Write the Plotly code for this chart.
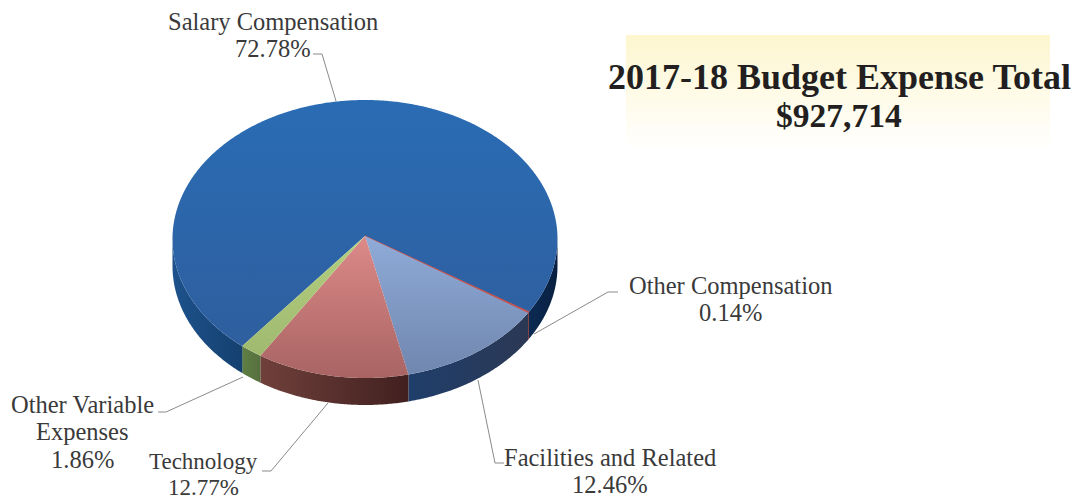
import numpy as np
import plotly.graph_objects as go

categories = ["Salary Compensation", "Other Compensation", "Facilities and Related", "Technology", "Other Variable Expenses"]
shares = [72.78, 0.14, 12.46, 12.77, 1.86]
title_lines = ["2017-18 Budget Expense Total", "$927,714"]

top_colors = [("#2a6cb4", "#2f5d9c"), ("#c0504d", "#c0504d"), ("#90abd9", "#6f86ad"),
              ("#dc8a88", "#a86463"), ("#b3cf80", "#9cb56c")]
side_colors = [("#1e528c", "#14406f"), ("#7a2f2d", "#7a2f2d"), ("#1f3e6b", "#2b3854"),
               ("#70403b", "#41201f"), ("#5f7f45", "#566f3f")]
salary_right_side = ("#0b2a52", "#0a2040")

W, H = 1077, 501
CX, CY, RX, RY, DEPTH = 365, 239, 192.5, 139, 27
APEX = (365, 236)
START = 219.6   # first slice start, degrees clockwise from top

def rim(a0, a1, n=None):
    n = n or max(int(abs(a1 - a0)) * 2, 2)
    a = np.radians(np.linspace(a0, a1, n))
    return CX + RX * np.sin(a), CY - RY * np.cos(a)

fig = go.Figure()

def grad(kind, c0, c1, start, stop):
    return dict(type=kind, colorscale=[[0, c0], [1, c1]], start=start, stop=stop)

# highlight box behind the title
fig.add_trace(go.Scatter(
    x=[626, 1050, 1050, 626, 626], y=[35, 35, 150, 150, 35], mode="none", fill="toself",
    fillgradient=grad("vertical", "#fdf6cf", "#ffffff", 35, 150),
    hoverinfo="skip", showlegend=False))

# slice angle ranges from the shares
edges = START + np.cumsum([0] + shares) * 3.6

# side walls, only for the front half of the disc
for k in (360, 0):
    for i, name in enumerate(categories):
        lo = max(edges[i], 90 + k)
        hi = min(edges[i + 1], 270 + k)
        if hi <= lo:
            continue
        xs, ys = rim(lo, hi)
        px = np.r_[xs, xs[::-1], xs[0]]
        py = np.r_[ys, ys[::-1] + DEPTH, ys[0]]
        c = salary_right_side if (i == 0 and k == 360) else side_colors[i]
        fig.add_trace(go.Scatter(
            x=px, y=py, mode="none", fill="toself", name=name,
            fillgradient=grad("horizontal", c[0], c[1], float(xs.min()), float(xs.max())),
            hoverinfo="skip", showlegend=False))

# top faces
for i, name in enumerate(categories):
    xs, ys = rim(edges[i], edges[i + 1])
    px = np.r_[APEX[0], xs, APEX[0]]
    py = np.r_[APEX[1], ys, APEX[1]]
    y0 = CY - RY if i == 0 else APEX[1]
    fig.add_trace(go.Scatter(
        x=px, y=py, mode="lines" if shares[i] < 1 else "none", fill="toself", name=name,
        line=dict(color=top_colors[i][0], width=1),
        fillgradient=grad("vertical", top_colors[i][0], top_colors[i][1], y0, CY + RY),
        hovertemplate=f"{name}: {shares[i]:.2f}%<extra></extra>", showlegend=False))

def label(lines, x, y, step=27.5, size=24.5):
    for j, t in enumerate(lines):
        fig.add_annotation(x=x, y=y + j * step, text=t, showarrow=False, xanchor="center", yanchor="middle",
                           font=dict(family="Liberation Serif", size=size, color="#3a3a3a"), align="center")

label([categories[0], f"{shares[0]:.2f}%"], 273, 21)
label([categories[1], f"{shares[1]:.2f}%"], 730, 285)
label([categories[2], f"{shares[2]:.2f}%"], 610, 457)
label([categories[3], f"{shares[3]:.2f}%"], 203, 461, step=26.5, size=23)
label(["Other Variable", "Expenses", f"{shares[4]:.2f}%"], 82, 404)

for t, y, s in zip(title_lines, [77, 115], [36, 33.5]):
    fig.add_annotation(x=839, y=y, text=f"<b>{t}</b>", showarrow=False,
                       xanchor="center", yanchor="middle", align="center",
                       font=dict(family="Liberation Serif", size=s, color="#231f20"))

leaders = [
    "M313,54 L322,54 L336,101",
    "M618,292 L608,292 L534,334",
    "M478,380 L495,463 L504,463",
    "M328,403 L271,471 L262,471",
    "M243,377 L166,412 L158,412",
]
for p in leaders:
    fig.add_shape(type="path", path=p, xref="x", yref="y", line=dict(color="#8a8a8a", width=1), layer="below")

fig.update_layout(
    width=W, height=H, margin=dict(l=0, r=0, t=0, b=0),
    paper_bgcolor="white", plot_bgcolor="white", showlegend=False,
    xaxis=dict(range=[0, W], visible=False, fixedrange=True),
    yaxis=dict(range=[H, 0], visible=False, fixedrange=True),
)
fig.write_html("out.html", config=dict(displayModeBar=False),
               post_script="document.body.style.margin='0';document.documentElement.style.overflow='hidden';")
